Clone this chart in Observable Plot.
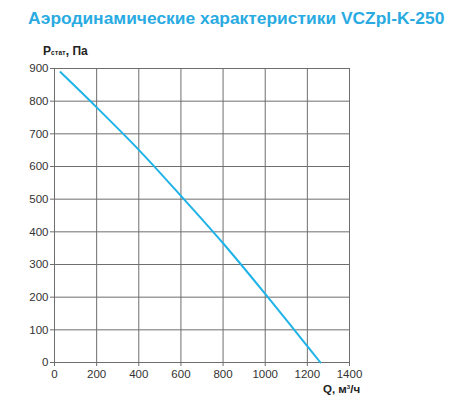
<!DOCTYPE html>
<html>
<head>
<meta charset="utf-8">
<script src="https://cdn.jsdelivr.net/npm/d3@7"></script>
<script src="https://cdn.jsdelivr.net/npm/@observablehq/plot@0.6"></script>
<style>
  body { margin: 0; background: #fff; font-family: "Liberation Sans", Arial, sans-serif; }
  #wrap { position: relative; width: 450px; height: 410px; }
  #title { position: absolute; left: 28px; top: 8px; font-size: 17.4px; font-weight: bold; color: #29abe2; white-space: nowrap; z-index: 2; }
  #ylab { position: absolute; left: 43px; top: 44px; font-size: 12px; font-weight: bold; color: #222; white-space: nowrap; z-index: 2; }
  #ylab sub { font-size: 6.5px; vertical-align: baseline; position: relative; top: 0px; letter-spacing: 0.3px; }
  #xlab { position: absolute; left: 323px; top: 383px; font-size: 11.5px; font-weight: bold; color: #222; white-space: nowrap; z-index: 2; }
  #xlab sup { font-size: 6px; vertical-align: baseline; position: relative; top: -4px; }
  #chart { position: absolute; left: 0; top: 34px; z-index: 1; }
</style>
</head>
<body>
<div id="wrap">
  <div id="chart"></div>
  <div id="title">Аэродинамические характеристики VCZpl-K-250</div>
  <div id="ylab">P<sub>стат</sub>, Па</div>
  <div id="xlab">Q, м<sup>3</sup>/ч</div>
</div>
<script>
const flow = [28, 200, 400, 600, 800, 1000, 1200, 1262];
const pressure = [889, 781, 651, 510, 365, 210, 50, 0];
const xTicks = [0, 200, 400, 600, 800, 1000, 1200, 1400];
const yTicks = [0, 100, 200, 300, 400, 500, 600, 700, 800, 900];

const data = flow.map((q, i) => ({q, p: pressure[i]}));

const chart = Plot.plot({
  width: 450,
  height: 376,
  marginLeft: 54,
  marginRight: 101,
  marginTop: 34,
  marginBottom: 48,
  style: {fontFamily: "'Liberation Sans', Arial, sans-serif", fontSize: "11.5px", color: "#333", background: "#fff"},
  x: {domain: [0, 1400], ticks: xTicks, label: null},
  y: {domain: [0, 900], ticks: yTicks, label: null},
  marks: [
    Plot.gridX(xTicks, {stroke: "#6e6e6e", strokeOpacity: 1, strokeWidth: 1}),
    Plot.gridY(yTicks, {stroke: "#6e6e6e", strokeOpacity: 1, strokeWidth: 1}),
    Plot.frame({stroke: "#6e6e6e", strokeWidth: 1}),
    Plot.axisX({ticks: xTicks, tickFormat: d => String(d), tickSize: 4, tickPadding: 3, stroke: "#6e6e6e", fill: "#333"}),
    Plot.axisY({ticks: yTicks, tickFormat: d => String(d), tickSize: 4, tickPadding: 2, stroke: "#6e6e6e", fill: "#333"}),
    Plot.line(data, {x: "q", y: "p", stroke: "#1fb3e8", strokeWidth: 2, curve: "catmull-rom"})
  ]
});
document.getElementById("chart").appendChild(chart);
</script>
</body>
</html>
